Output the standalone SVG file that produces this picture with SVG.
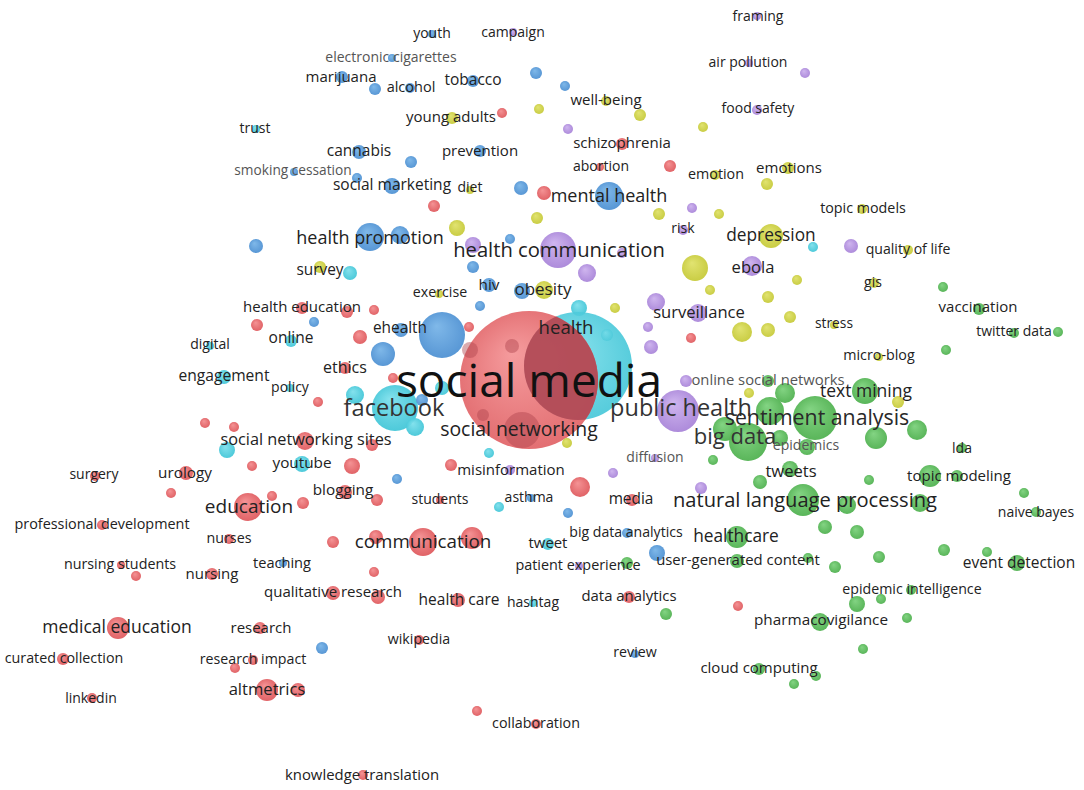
<svg xmlns="http://www.w3.org/2000/svg" width="1084" height="790" viewBox="0 0 1084 790">
<defs>
<radialGradient id="gr" fx="38%" fy="30%" r="60%"><stop offset="0" stop-color="#f48e90"/><stop offset="1" stop-color="#dc5458"/></radialGradient>
<radialGradient id="gb" fx="38%" fy="30%" r="60%"><stop offset="0" stop-color="#79b5e8"/><stop offset="1" stop-color="#4a8dd0"/></radialGradient>
<radialGradient id="gg" fx="38%" fy="30%" r="60%"><stop offset="0" stop-color="#7dd27d"/><stop offset="1" stop-color="#4bad4b"/></radialGradient>
<radialGradient id="gy" fx="38%" fy="30%" r="60%"><stop offset="0" stop-color="#e0e26a"/><stop offset="1" stop-color="#c3c734"/></radialGradient>
<radialGradient id="gp" fx="38%" fy="30%" r="60%"><stop offset="0" stop-color="#cdb2ee"/><stop offset="1" stop-color="#a47fd6"/></radialGradient>
<radialGradient id="gc" fx="38%" fy="30%" r="60%"><stop offset="0" stop-color="#7ee0ec"/><stop offset="1" stop-color="#3cc3d5"/></radialGradient>
<clipPath id="redclip"><circle cx="529" cy="380" r="69"/></clipPath>
<style>
text{font-family:"Open Sans","Noto Sans","DejaVu Sans",sans-serif;fill:#222;text-anchor:middle}
.lt{fill:#555}
.r{fill:url(#gr)}.b{fill:url(#gb)}.g{fill:url(#gg)}.y{fill:url(#gy)}.p{fill:url(#gp)}.c{fill:url(#gc)}
circle{opacity:.95}
.dk{fill:#b0444e;opacity:.45}
</style>
</defs>
<rect width="1084" height="790" fill="#fff"/>
<g id="connectors"/>
<g id="nodes">
<circle class="p" cx="757" cy="16" r="4"/>
<circle class="b" cx="432" cy="34" r="4"/>
<circle class="p" cx="513" cy="32" r="4"/>
<circle class="b" cx="392" cy="58" r="4"/>
<circle class="p" cx="749" cy="63" r="4"/>
<circle class="p" cx="805" cy="73" r="5"/>
<circle class="b" cx="342" cy="77" r="6"/>
<circle class="b" cx="375" cy="89" r="6"/>
<circle class="b" cx="410" cy="88" r="5"/>
<circle class="b" cx="473" cy="81" r="6"/>
<circle class="b" cx="536" cy="73" r="6"/>
<circle class="b" cx="565" cy="86" r="5"/>
<circle class="y" cx="606" cy="101" r="5"/>
<circle class="y" cx="539" cy="109" r="5"/>
<circle class="r" cx="502" cy="113" r="5"/>
<circle class="y" cx="452" cy="118" r="6"/>
<circle class="y" cx="640" cy="115" r="6"/>
<circle class="p" cx="757" cy="110" r="5"/>
<circle class="y" cx="703" cy="127" r="5"/>
<circle class="p" cx="568" cy="129" r="5"/>
<circle class="c" cx="256" cy="129" r="4"/>
<circle class="r" cx="622" cy="144" r="6"/>
<circle class="b" cx="359" cy="152" r="7"/>
<circle class="b" cx="411" cy="162" r="6"/>
<circle class="b" cx="480" cy="151" r="6"/>
<circle class="r" cx="600" cy="167" r="4"/>
<circle class="r" cx="670" cy="166" r="6"/>
<circle class="b" cx="294" cy="172" r="4"/>
<circle class="b" cx="357" cy="178" r="5"/>
<circle class="y" cx="715" cy="175" r="5"/>
<circle class="y" cx="788" cy="168" r="6"/>
<circle class="y" cx="767" cy="184" r="6"/>
<circle class="b" cx="392" cy="186" r="8"/>
<circle class="y" cx="470" cy="190" r="4"/>
<circle class="b" cx="521" cy="188" r="7"/>
<circle class="r" cx="544" cy="193" r="7"/>
<circle class="b" cx="609" cy="196" r="14"/>
<circle class="r" cx="434" cy="206" r="6"/>
<circle class="y" cx="537" cy="218" r="6"/>
<circle class="y" cx="659" cy="214" r="6"/>
<circle class="p" cx="692" cy="208" r="5"/>
<circle class="y" cx="719" cy="214" r="5"/>
<circle class="y" cx="862" cy="209" r="5"/>
<circle class="y" cx="457" cy="228" r="8"/>
<circle class="p" cx="683" cy="230" r="5"/>
<circle class="b" cx="510" cy="239" r="5"/>
<circle class="y" cx="771" cy="236" r="12"/>
<circle class="c" cx="813" cy="247" r="5"/>
<circle class="b" cx="370" cy="237" r="14"/>
<circle class="b" cx="400" cy="235" r="9"/>
<circle class="p" cx="473" cy="245" r="8"/>
<circle class="p" cx="558" cy="250" r="18"/>
<circle class="p" cx="622" cy="253" r="5"/>
<circle class="p" cx="587" cy="273" r="9"/>
<circle class="y" cx="695" cy="268" r="13"/>
<circle class="p" cx="752" cy="266" r="10"/>
<circle class="p" cx="851" cy="246" r="7"/>
<circle class="y" cx="908" cy="250" r="5"/>
<circle class="y" cx="797" cy="280" r="5"/>
<circle class="y" cx="874" cy="283" r="5"/>
<circle class="y" cx="320" cy="267" r="6"/>
<circle class="c" cx="350" cy="273" r="7"/>
<circle class="b" cx="256" cy="246" r="7"/>
<circle class="b" cx="489" cy="285" r="7"/>
<circle class="b" cx="522" cy="291" r="8"/>
<circle class="y" cx="544" cy="290" r="9"/>
<circle class="b" cx="473" cy="267" r="6"/>
<circle class="y" cx="615" cy="308" r="5"/>
<circle class="y" cx="710" cy="290" r="5"/>
<circle class="y" cx="768" cy="297" r="6"/>
<circle class="p" cx="656" cy="302" r="9"/>
<circle class="p" cx="698" cy="313" r="9"/>
<circle class="y" cx="790" cy="317" r="6"/>
<circle class="y" cx="742" cy="332" r="10"/>
<circle class="y" cx="768" cy="330" r="7"/>
<circle class="r" cx="691" cy="338" r="5"/>
<circle class="p" cx="648" cy="327" r="5"/>
<circle class="p" cx="651" cy="347" r="7"/>
<circle class="y" cx="834" cy="325" r="4"/>
<circle class="y" cx="439" cy="294" r="4"/>
<circle class="b" cx="480" cy="306" r="5"/>
<circle class="r" cx="302" cy="308" r="6"/>
<circle class="r" cx="347" cy="312" r="6"/>
<circle class="r" cx="374" cy="310" r="5"/>
<circle class="b" cx="314" cy="322" r="5"/>
<circle class="b" cx="401" cy="330" r="7"/>
<circle class="c" cx="291" cy="341" r="6"/>
<circle class="r" cx="257" cy="325" r="6"/>
<circle class="r" cx="360" cy="337" r="7"/>
<circle class="b" cx="383" cy="354" r="12"/>
<circle class="c" cx="210" cy="346" r="4"/>
<circle class="r" cx="345" cy="368" r="6"/>
<circle class="r" cx="393" cy="378" r="5"/>
<circle class="c" cx="224" cy="377" r="7"/>
<circle class="c" cx="290" cy="388" r="4"/>
<circle class="r" cx="318" cy="402" r="5"/>
<circle class="c" cx="355" cy="395" r="9"/>
<circle class="c" cx="442" cy="388" r="7"/>
<circle id="node-facebook" class="c" cx="395" cy="408" r="23"/>
<circle class="c" cx="415" cy="427" r="9"/>
<circle class="b" cx="422" cy="400" r="6"/>
<circle class="r" cx="305" cy="441" r="9"/>
<circle class="r" cx="372" cy="445" r="6"/>
<circle class="c" cx="302" cy="464" r="8"/>
<circle class="r" cx="352" cy="466" r="8"/>
<circle class="r" cx="303" cy="503" r="6"/>
<circle class="r" cx="345" cy="492" r="7"/>
<circle class="r" cx="377" cy="500" r="6"/>
<circle class="b" cx="397" cy="479" r="5"/>
<circle class="r" cx="440" cy="500" r="4"/>
<circle class="r" cx="451" cy="465" r="6"/>
<circle class="p" cx="510" cy="470" r="5"/>
<circle class="c" cx="489" cy="453" r="5"/>
<circle class="c" cx="499" cy="507" r="5"/>
<circle class="b" cx="531" cy="498" r="4"/>
<circle class="c" cx="579" cy="308" r="8"/>
<circle class="b" cx="442" cy="335" r="23"/>
<circle class="r" cx="469" cy="327" r="5"/>
<g id="node-health"><circle class="c" cx="578" cy="366" r="54" style="opacity:.9"/></g>
<g id="node-social-media"><circle class="r" cx="529" cy="380" r="69" style="opacity:.88"/>
<circle cx="578" cy="366" r="54" clip-path="url(#redclip)" fill="#b24c57" opacity=".45"/></g>
<circle class="dk" cx="522" cy="430" r="18"/>
<circle class="dk" cx="470" cy="350" r="8"/>
<circle class="dk" cx="512" cy="346" r="7"/>
<circle class="dk" cx="483" cy="415" r="6"/>
<circle class="c" cx="607" cy="335" r="6" style="opacity:.6"/>
<circle class="p" cx="686" cy="381" r="6"/>
<circle class="g" cx="768" cy="381" r="6"/>
<circle class="g" cx="785" cy="393" r="10"/>
<circle class="y" cx="749" cy="393" r="5"/>
<circle class="g" cx="865" cy="391" r="13"/>
<circle class="y" cx="898" cy="402" r="6"/>
<circle class="g" cx="770" cy="411" r="14"/>
<circle class="g" cx="725" cy="429" r="12"/>
<circle class="g" cx="748" cy="442" r="19"/>
<circle class="g" cx="780" cy="438" r="8"/>
<circle class="g" cx="815" cy="418" r="22"/>
<circle class="g" cx="807" cy="447" r="8"/>
<circle class="g" cx="713" cy="460" r="5"/>
<circle class="g" cx="790" cy="469" r="8"/>
<circle class="g" cx="760" cy="482" r="7"/>
<circle class="g" cx="803" cy="500" r="16"/>
<circle class="p" cx="701" cy="488" r="6"/>
<circle class="p" cx="655" cy="458" r="4"/>
<circle class="p" cx="613" cy="473" r="5"/>
<circle class="r" cx="580" cy="487" r="10"/>
<circle class="r" cx="632" cy="500" r="6"/>
<circle class="b" cx="568" cy="513" r="5"/>
<circle class="y" cx="567" cy="443" r="5"/>
<circle class="p" cx="678" cy="411" r="21"/>
<circle class="g" cx="943" cy="287" r="5"/>
<circle class="g" cx="979" cy="309" r="6"/>
<circle class="g" cx="1014" cy="333" r="5"/>
<circle class="g" cx="1058" cy="332" r="5"/>
<circle class="y" cx="879" cy="357" r="4"/>
<circle class="g" cx="946" cy="350" r="5"/>
<circle class="g" cx="917" cy="430" r="10"/>
<circle class="g" cx="876" cy="438" r="11"/>
<circle class="g" cx="962" cy="448" r="5"/>
<circle class="g" cx="930" cy="476" r="11"/>
<circle class="g" cx="957" cy="476" r="6"/>
<circle class="g" cx="869" cy="480" r="5"/>
<circle class="g" cx="1024" cy="493" r="5"/>
<circle class="g" cx="1036" cy="512" r="5"/>
<circle class="g" cx="920" cy="503" r="9"/>
<circle class="g" cx="847" cy="505" r="9"/>
<circle class="g" cx="825" cy="527" r="7"/>
<circle class="g" cx="857" cy="532" r="7"/>
<circle class="g" cx="879" cy="557" r="6"/>
<circle class="g" cx="944" cy="550" r="6"/>
<circle class="g" cx="987" cy="552" r="5"/>
<circle class="g" cx="1017" cy="563" r="8"/>
<circle class="g" cx="835" cy="567" r="6"/>
<circle class="g" cx="911" cy="590" r="5"/>
<circle class="g" cx="881" cy="599" r="5"/>
<circle class="g" cx="857" cy="604" r="8"/>
<circle class="g" cx="907" cy="618" r="5"/>
<circle class="g" cx="820" cy="622" r="9"/>
<circle class="g" cx="863" cy="649" r="5"/>
<circle class="g" cx="816" cy="676" r="5"/>
<circle class="g" cx="737" cy="537" r="11"/>
<circle class="b" cx="627" cy="533" r="5"/>
<circle class="c" cx="548" cy="544" r="6"/>
<circle class="b" cx="657" cy="553" r="8"/>
<circle class="g" cx="737" cy="561" r="7"/>
<circle class="g" cx="808" cy="558" r="5"/>
<circle class="p" cx="579" cy="566" r="4"/>
<circle class="g" cx="627" cy="563" r="6"/>
<circle class="r" cx="629" cy="597" r="6"/>
<circle class="g" cx="666" cy="614" r="6"/>
<circle class="r" cx="738" cy="606" r="5"/>
<circle class="b" cx="635" cy="654" r="4"/>
<circle class="g" cx="759" cy="669" r="6"/>
<circle class="g" cx="794" cy="684" r="5"/>
<circle class="r" cx="102" cy="525" r="5"/>
<circle class="r" cx="229" cy="539" r="5"/>
<circle class="r" cx="121" cy="565" r="4"/>
<circle class="r" cx="136" cy="576" r="5"/>
<circle class="r" cx="212" cy="574" r="6"/>
<circle class="r" cx="118" cy="628" r="11"/>
<circle class="r" cx="260" cy="628" r="6"/>
<circle class="r" cx="63" cy="659" r="6"/>
<circle class="r" cx="253" cy="660" r="5"/>
<circle class="r" cx="235" cy="668" r="5"/>
<circle class="r" cx="92" cy="698" r="5"/>
<circle class="r" cx="267" cy="690" r="11"/>
<circle class="r" cx="298" cy="690" r="7"/>
<circle class="r" cx="186" cy="473" r="7"/>
<circle class="r" cx="95" cy="476" r="5"/>
<circle class="r" cx="171" cy="493" r="5"/>
<circle class="r" cx="205" cy="423" r="5"/>
<circle class="r" cx="234" cy="427" r="5"/>
<circle class="c" cx="227" cy="450" r="8"/>
<circle class="r" cx="252" cy="466" r="5"/>
<circle class="r" cx="248" cy="507" r="14"/>
<circle class="r" cx="272" cy="496" r="5"/>
<circle class="r" cx="423" cy="542" r="14"/>
<circle class="r" cx="472" cy="538" r="11"/>
<circle class="r" cx="376" cy="537" r="7"/>
<circle class="r" cx="333" cy="542" r="6"/>
<circle class="b" cx="283" cy="563" r="4"/>
<circle class="r" cx="374" cy="572" r="5"/>
<circle class="r" cx="333" cy="593" r="7"/>
<circle class="r" cx="378" cy="597" r="7"/>
<circle class="r" cx="458" cy="600" r="7"/>
<circle class="c" cx="533" cy="603" r="4"/>
<circle class="r" cx="419" cy="640" r="5"/>
<circle class="b" cx="322" cy="648" r="6"/>
<circle class="r" cx="477" cy="711" r="5"/>
<circle class="r" cx="536" cy="724" r="5"/>
<circle class="r" cx="363" cy="775" r="5"/>
</g>
<g id="labels">
<text x="758" y="21" font-size="14">framing</text>
<text x="432" y="38" font-size="14">youth</text>
<text x="513" y="37" font-size="14">campaign</text>
<text x="391" y="62" font-size="14" class="lt">electronic cigarettes</text>
<text x="748" y="67" font-size="14">air pollution</text>
<text x="341" y="82" font-size="15">marijuana</text>
<text x="411" y="92" font-size="14.5">alcohol</text>
<text x="473" y="85" font-size="15.5">tobacco</text>
<text x="606" y="105" font-size="15">well-being</text>
<text x="758" y="113" font-size="14">food safety</text>
<text x="451" y="122" font-size="15">young adults</text>
<text x="255" y="133" font-size="14">trust</text>
<text x="622" y="148" font-size="15">schizophrenia</text>
<text x="359" y="156" font-size="15.5">cannabis</text>
<text x="480" y="156" font-size="15">prevention</text>
<text x="601" y="171" font-size="14">abortion</text>
<text x="293" y="175" font-size="13.7" class="lt">smoking cessation</text>
<text x="716" y="179" font-size="14.3">emotion</text>
<text x="789" y="173" font-size="15">emotions</text>
<text x="392" y="190" font-size="15.5">social marketing</text>
<text x="470" y="192" font-size="14">diet</text>
<text x="609" y="202" font-size="18">mental health</text>
<text x="863" y="213" font-size="14.3">topic models</text>
<text x="683" y="233" font-size="14">risk</text>
<text x="771" y="241" font-size="17.3">depression</text>
<text x="370" y="244" font-size="18">health promotion</text>
<text x="559" y="257" font-size="20.2">health communication</text>
<text x="908" y="254" font-size="14.1">quality of life</text>
<text x="753" y="273" font-size="16.6">ebola</text>
<text x="320" y="275" font-size="15.4">survey</text>
<text x="873" y="287" font-size="14">gis</text>
<text x="489" y="290" font-size="15.3">hiv</text>
<text x="543" y="295" font-size="17">obesity</text>
<text x="440" y="297" font-size="14.2">exercise</text>
<text x="978" y="312" font-size="15">vaccination</text>
<text x="302" y="312" font-size="15">health education</text>
<text x="699" y="318" font-size="16.6">surveillance</text>
<text x="834" y="328" font-size="13.8">stress</text>
<text x="400" y="333" font-size="15.4">ehealth</text>
<text x="566" y="334" font-size="18.6">health</text>
<text x="1014" y="336" font-size="14">twitter data</text>
<text x="291" y="343" font-size="15.5">online</text>
<text x="210" y="349" font-size="14">digital</text>
<text x="879" y="360" font-size="14.3">micro-blog</text>
<text x="345" y="373" font-size="16">ethics</text>
<text x="224" y="381" font-size="15.6">engagement</text>
<text x="768" y="385" font-size="14.8" class="lt">online social networks</text>
<text x="290" y="392" font-size="14">policy</text>
<text x="866" y="397" font-size="17.5">text mining</text>
<text x="529" y="397" font-size="46" style="fill:#111">social media</text>
<text x="394" y="416" font-size="23.6" style="fill:#333">facebook</text>
<text x="681" y="416" font-size="23.5" style="fill:#333">public health</text>
<text x="817" y="425" font-size="21.3" style="fill:#2a2a2a">sentiment analysis</text>
<text x="519" y="436" font-size="19.4">social networking</text>
<text x="306" y="445" font-size="16.3">social networking sites</text>
<text x="735" y="444" font-size="22" style="fill:#333">big data</text>
<text x="962" y="453" font-size="14">lda</text>
<text x="806" y="450" font-size="14" class="lt">epidemics</text>
<text x="655" y="462" font-size="14" class="lt">diffusion</text>
<text x="302" y="468" font-size="15.3">youtube</text>
<text x="791" y="477" font-size="16.6">tweets</text>
<text x="511" y="475" font-size="15">misinformation</text>
<text x="94" y="479" font-size="14">surgery</text>
<text x="185" y="478" font-size="15.3">urology</text>
<text x="959" y="481" font-size="15">topic modeling</text>
<text x="343" y="495" font-size="15.3">blogging</text>
<text x="440" y="504" font-size="14">students</text>
<text x="529" y="502" font-size="14">asthma</text>
<text x="631" y="504" font-size="15.4">media</text>
<text x="805" y="507" font-size="20.1">natural language processing</text>
<text x="249" y="513" font-size="19">education</text>
<text x="1036" y="517" font-size="14">naive bayes</text>
<text x="102" y="529" font-size="14.4">professional development</text>
<text x="626" y="537" font-size="14.1">big data analytics</text>
<text x="736" y="542" font-size="17.3">healthcare</text>
<text x="229" y="543" font-size="14.3">nurses</text>
<text x="423" y="548" font-size="18.8">communication</text>
<text x="548" y="548" font-size="14.9">tweet</text>
<text x="738" y="565" font-size="14.9">user-generated content</text>
<text x="1019" y="568" font-size="15.5">event detection</text>
<text x="120" y="569" font-size="14.3">nursing students</text>
<text x="282" y="568" font-size="14.6">teaching</text>
<text x="578" y="570" font-size="14.4">patient experience</text>
<text x="212" y="579" font-size="15">nursing</text>
<text x="912" y="594" font-size="14.2">epidemic intelligence</text>
<text x="333" y="597" font-size="15">qualitative research</text>
<text x="629" y="601" font-size="14.9">data analytics</text>
<text x="459" y="605" font-size="15.5">health care</text>
<text x="533" y="607" font-size="14">hashtag</text>
<text x="821" y="625" font-size="15.3">pharmacovigilance</text>
<text x="117" y="633" font-size="17.5">medical education</text>
<text x="261" y="633" font-size="15">research</text>
<text x="419" y="644" font-size="14.2">wikipedia</text>
<text x="635" y="657" font-size="14.2">review</text>
<text x="64" y="663" font-size="14.3">curated collection</text>
<text x="253" y="664" font-size="14.2">research impact</text>
<text x="759" y="673" font-size="15">cloud computing</text>
<text x="267" y="695" font-size="16.6">altmetrics</text>
<text x="91" y="703" font-size="14">linkedin</text>
<text x="536" y="728" font-size="14.3">collaboration</text>
<text x="362" y="780" font-size="14.9">knowledge translation</text>
</g>
</svg>
